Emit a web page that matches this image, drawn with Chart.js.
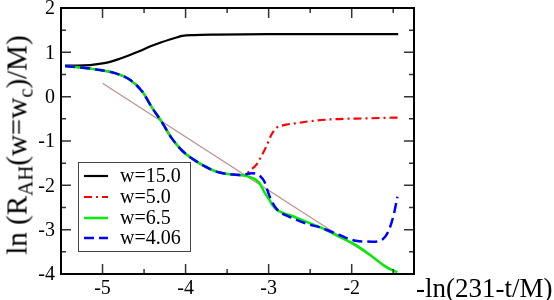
<!DOCTYPE html>
<html>
<head>
<meta charset="utf-8">
<script src="https://cdn.jsdelivr.net/npm/chart.js@4.4.0/dist/chart.umd.min.js"></script>
<style>
  body { margin: 0; background: #fff; }
  #wrap { position: relative; width: 554px; height: 300px; }
  .ttl { position: absolute; font-family: "Liberation Serif", serif; color: #000; white-space: nowrap; line-height: 1; }
  #ytitle { left: 17px; top: 145px; font-size: 29px; transform: translate(-50%, -50%) rotate(-90deg); }
  #xtitle { left: 416px; top: 275px; font-size: 27px; }
  sub { font-size: 0.72em; vertical-align: -0.3em; line-height: 0; }
</style>
</head>
<body>
<div id="wrap">
  <canvas id="chart" width="554" height="300"></canvas>
  <div class="ttl" id="ytitle">ln (R<sub>AH</sub>(w=w<sub>c</sub>)/M)</div>
  <div class="ttl" id="xtitle">-ln(231-t/M)</div>
</div>
<script>
// tick labels
const xTicks = [-5, -4, -3, -2];
const yTicks = [2, 1, 0, -1, -2, -3, -4];

// w=15.0
const w15X = [-5.45, -5.3, -5.15, -5.0, -4.9, -4.8, -4.67, -4.55, -4.43, -4.3, -4.19, -4.1, -4.04, -3.9, -3.63, -3.0, -2.0, -1.44];
const w15Y = [0.70, 0.70, 0.71, 0.75, 0.79, 0.85, 0.94, 1.03, 1.13, 1.22, 1.29, 1.34, 1.37, 1.39, 1.40, 1.41, 1.41, 1.41];

// early part shared by the three lower runs
const sharedX = [-5.45, -5.27, -5.03, -4.85, -4.67, -4.52, -4.40, -4.29, -4.17, -4.04, -3.95, -3.86, -3.80, -3.63, -3.47, -3.32];
const sharedY = [0.69, 0.66, 0.60, 0.53, 0.38, 0.11, -0.26, -0.56, -0.93, -1.22, -1.36, -1.47, -1.54, -1.69, -1.75, -1.77];

// w=5.0
const w5X = [-3.28, -3.22, -3.15, -3.09, -3.03, -2.97, -2.91, -2.85, -2.79, -2.63, -2.53, -2.23, -1.83, -1.43];
const w5Y = [-1.76, -1.66, -1.54, -1.35, -1.13, -0.87, -0.71, -0.66, -0.63, -0.59, -0.56, -0.51, -0.49, -0.47];

// w=6.5
const w65X = [-3.20, -3.11, -3.05, -2.99, -2.95, -2.88, -2.75, -2.55, -2.35, -2.15, -1.95, -1.75, -1.59, -1.45];
const w65Y = [-1.83, -1.95, -2.16, -2.33, -2.46, -2.58, -2.67, -2.82, -2.97, -3.16, -3.35, -3.61, -3.84, -3.96];

// w=4.06
const w406X = [-3.25, -3.20, -3.15, -3.11, -3.05, -3.03, -2.97, -2.91, -2.85, -2.75, -2.55, -2.35, -2.15, -1.95, -1.75, -1.63, -1.55, -1.49, -1.45];
const w406Y = [-1.74, -1.73, -1.74, -1.78, -1.92, -2.03, -2.33, -2.52, -2.62, -2.71, -2.86, -2.97, -3.12, -3.25, -3.27, -3.22, -3.00, -2.63, -2.26];

// straight fit line
const fitX = [-5.0, -1.5];
const fitY = [0.30, -3.92];

const pts = (xs, ys) => xs.map((x, i) => ({ x: x, y: ys[i] }));
const serif = "'Liberation Serif', 'Times New Roman', serif";

const series = [
  { label: "w=15.0", data: pts(w15X, w15Y), borderColor: "#000000", borderWidth: 2.2, borderDash: [], order: 3 },
  { label: "w=5.0", data: pts(sharedX.concat(w5X), sharedY.concat(w5Y)), borderColor: "#ff0000", borderWidth: 2.2, borderDash: [8, 4, 2, 4], order: 2 },
  { label: "w=6.5", data: pts(sharedX.concat(w65X), sharedY.concat(w65Y)), borderColor: "#00ee00", borderWidth: 2.5, borderDash: [], order: 1 },
  { label: "w=4.06", data: pts(sharedX.concat(w406X), sharedY.concat(w406Y)), borderColor: "#0000ff", borderWidth: 2.5, borderDash: [10, 5], order: 0 },
  { label: "fit", data: pts(fitX, fitY), borderColor: "#bc8f8f", borderWidth: 1.2, borderDash: [], order: 4 }
];

// frame with inward ticks on all sides, tick labels, and the boxed legend
const framePlugin = {
  id: "frame",
  afterDatasetsDraw(chart) {
    const ctx = chart.ctx;
    const a = chart.chartArea;
    const xs = chart.scales.x, ys = chart.scales.y;
    ctx.save();
    ctx.strokeStyle = "#333";
    ctx.lineWidth = 1.5;
    ctx.beginPath();
    for (let v = -5; v <= -1.5; v += 0.5) {
      const p = xs.getPixelForValue(v);
      const len = Number.isInteger(v) ? 10 : 5;
      ctx.moveTo(p, a.bottom); ctx.lineTo(p, a.bottom - len);
      ctx.moveTo(p, a.top); ctx.lineTo(p, a.top + len);
    }
    for (let v = -3.5; v <= 1.5; v += 0.5) {
      const p = ys.getPixelForValue(v);
      const len = Number.isInteger(v) ? 10 : 5;
      ctx.moveTo(a.left, p); ctx.lineTo(a.left + len, p);
      ctx.moveTo(a.right, p); ctx.lineTo(a.right - len, p);
    }
    ctx.stroke();
    ctx.strokeStyle = "#000";
    ctx.lineWidth = 2;
    ctx.strokeRect(a.left, a.top, a.right - a.left, a.bottom - a.top);

    // tick labels
    ctx.fillStyle = "#000";
    ctx.font = "20px " + serif;
    ctx.textBaseline = "middle";
    ctx.textAlign = "right";
    yTicks.forEach(v => ctx.fillText(String(v), a.left - 6, ys.getPixelForValue(v) + 1));
    ctx.textAlign = "center";
    xTicks.forEach(v => ctx.fillText(String(v), xs.getPixelForValue(v), a.bottom + 15));

    // legend
    ctx.textAlign = "left";
    ctx.fillStyle = "#fff";
    ctx.fillRect(78, 162, 112, 89);
    ctx.strokeStyle = "#444";
    ctx.lineWidth = 1;
    ctx.strokeRect(78.5, 162.5, 112, 89);
    const rows = [176, 197, 218, 238];
    for (let i = 0; i < 4; i++) {
      const ds = series[i];
      ctx.strokeStyle = ds.borderColor;
      ctx.lineWidth = ds.borderWidth;
      ctx.setLineDash(ds.borderDash);
      ctx.beginPath();
      ctx.moveTo(84, rows[i]); ctx.lineTo(108, rows[i]);
      ctx.stroke();
      ctx.setLineDash([]);
      ctx.fillStyle = "#000";
      ctx.fillText(ds.label, 120, rows[i] + 1);
    }
    ctx.restore();
  }
};

new Chart(document.getElementById("chart").getContext("2d"), {
  type: "line",
  data: {
    datasets: series.map(s => ({
      label: s.label,
      data: s.data,
      borderColor: s.borderColor,
      borderWidth: s.borderWidth,
      borderDash: s.borderDash,
      order: s.order,
      pointRadius: 0,
      fill: false,
      cubicInterpolationMode: "monotone"
    }))
  },
  options: {
    responsive: false,
    animation: false,
    layout: { padding: { left: 0, right: 140, top: 8, bottom: 0 } },
    plugins: { legend: { display: false }, tooltip: { enabled: false } },
    scales: {
      x: {
        type: "linear",
        min: -5.5,
        max: -1.25,
        grid: { display: false, drawTicks: false },
        border: { display: false },
        ticks: { display: false },
        afterFit: s => { s.height = 26; s.paddingLeft = 0; s.paddingRight = 0; }
      },
      y: {
        min: -4,
        max: 2,
        grid: { display: false, drawTicks: false },
        border: { display: false },
        ticks: { display: false },
        afterFit: s => { s.width = 61; s.paddingTop = 0; s.paddingBottom = 0; }
      }
    }
  },
  plugins: [framePlugin]
});
</script>
</body>
</html>
